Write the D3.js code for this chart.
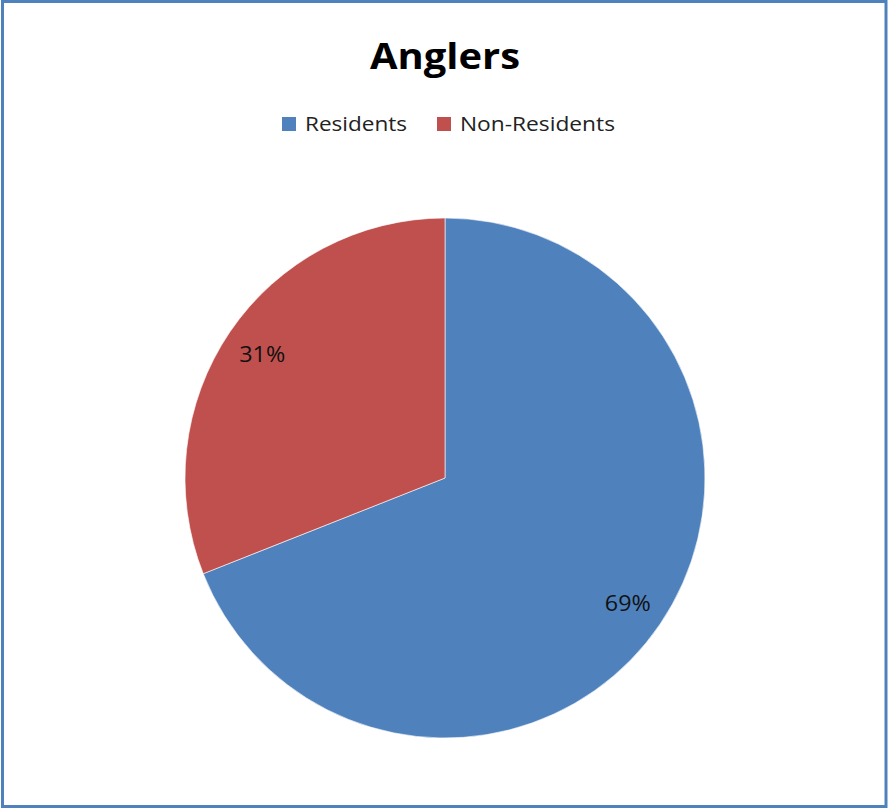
<!DOCTYPE html>
<html><head><meta charset="utf-8">
<script src="https://cdn.jsdelivr.net/npm/d3@7"></script>
<style>html,body{margin:0;padding:0;background:#fff;}svg{display:block;}</style>
</head><body>
<svg id="chart" width="888" height="809"></svg>
<script>
const title = "Anglers";
const categories = ["Residents", "Non-Residents"];
const values = [69, 31];
const colors = ["#4F81BD", "#C0504D"];

const svg = d3.select("#chart");
const W = 888, H = 809;
const font = "Open Sans, Lato, sans-serif";

svg.append("rect").attr("x", 2.5).attr("y", 1.5).attr("width", W - 4.5).attr("height", H - 4)
  .attr("fill", "#fff").attr("stroke", "#4F81BD").attr("stroke-width", 3);

svg.append("text").attr("x", 445).attr("y", 69).attr("text-anchor", "middle")
  .attr("font-family", "Open Sans, sans-serif").attr("font-weight", "bold").attr("font-size", 36)
  .attr("fill", "#000").attr("textLength", 150).attr("lengthAdjust", "spacingAndGlyphs").text(title);

// legend
const legX = [282, 437], legTextX = [305, 460], legTextW = [102, 155];
const leg = svg.append("g");
categories.forEach((c, i) => {
  leg.append("rect").attr("x", legX[i]).attr("y", 117).attr("width", 14).attr("height", 14).attr("fill", colors[i]);
  leg.append("text").attr("x", legTextX[i]).attr("y", 131).attr("font-family", font).attr("font-size", 20)
    .attr("fill", "#222").attr("textLength", legTextW[i]).attr("lengthAdjust", "spacingAndGlyphs").text(c);
});

const cx = 445, cy = 478, R = 260;
const pie = d3.pie().sort(null).value(d => d)(values);
const arc = d3.arc().innerRadius(0).outerRadius(R);
const labelArc = d3.arc().innerRadius(R * 0.85).outerRadius(R * 0.85);
const g = svg.append("g").attr("transform", `translate(${cx},${cy})`);
g.selectAll("path").data(pie).join("path").attr("d", arc).attr("fill", (d, i) => colors[i])
  .attr("stroke", "#fff").attr("stroke-width", 0.6);
const total = d3.sum(values);
g.selectAll("text.lbl").data(pie).join("text").attr("class", "lbl")
  .attr("transform", d => `translate(${labelArc.centroid(d)})`)
  .attr("text-anchor", "middle").attr("dy", "0.38em")
  .attr("font-family", font).attr("font-size", 22).attr("fill", "#111")
  .attr("textLength", 46).attr("lengthAdjust", "spacingAndGlyphs")
  .text(d => Math.round(d.data / total * 100) + "%");
</script>
</body></html>
